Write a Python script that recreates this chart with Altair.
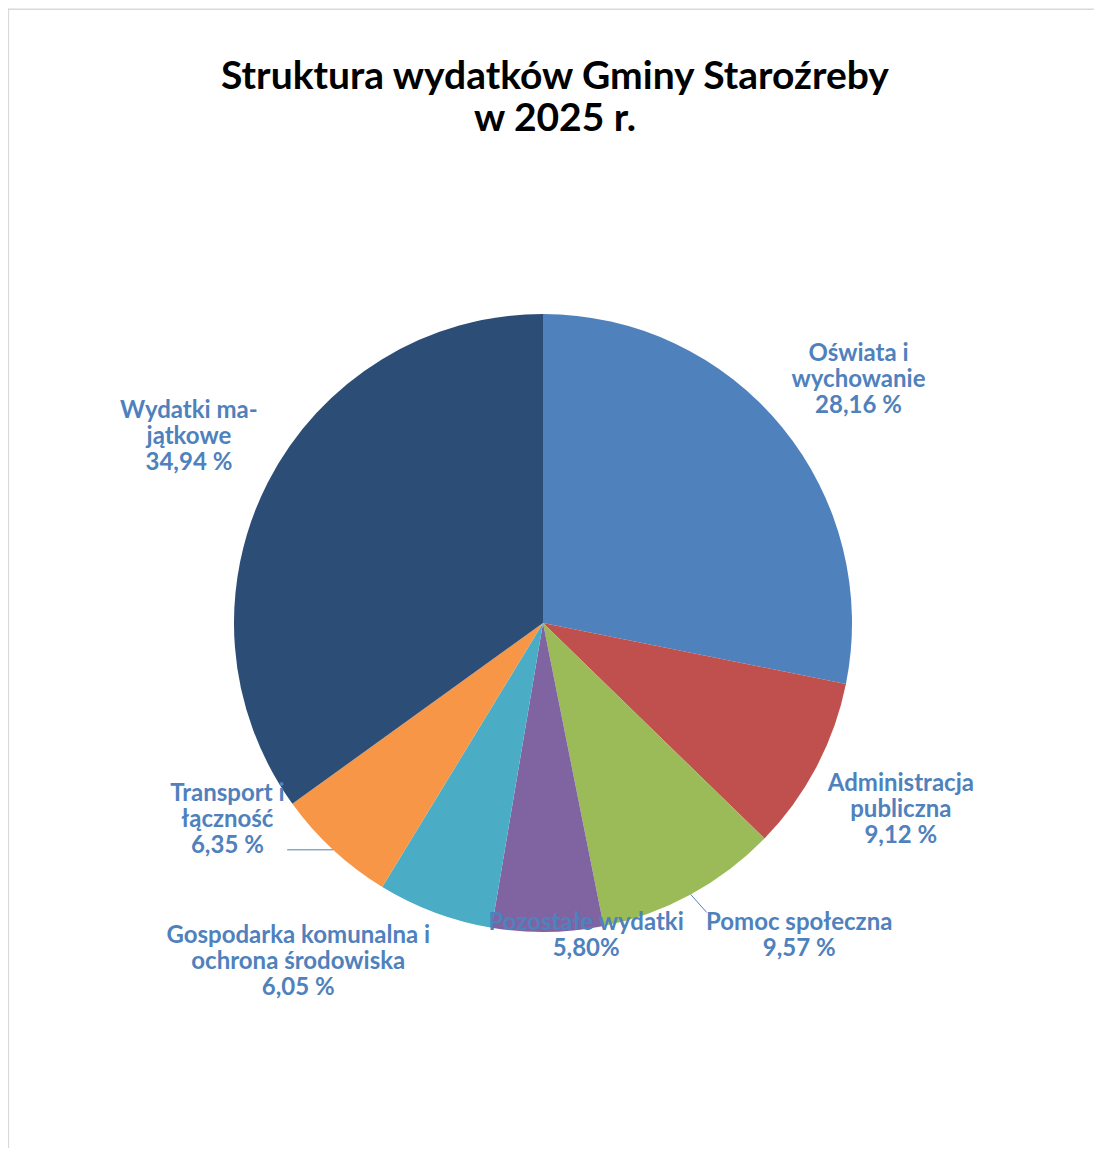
import altair as alt
import pandas as pd

categories = [
    "Oświata i wychowanie",
    "Administracja publiczna",
    "Pomoc społeczna",
    "Pozostałe wydatki",
    "Gospodarka komunalna i ochrona środowiska",
    "Transport i łączność",
    "Wydatki majątkowe",
]
values = [28.16, 9.12, 9.57, 5.80, 6.05, 6.35, 34.94]
label_names = [
    "Oświata i\nwychowanie",
    "Administracja\npubliczna",
    "Pomoc społeczna",
    "Pozostałe wydatki",
    "Gospodarka komunalna i\nochrona środowiska",
    "Transport i\nłączność",
    "Wydatki ma-\njątkowe",
]
value_labels = ["28,16 %", "9,12 %", "9,57 %", "5,80%", "6,05 %", "6,35 %", "34,94 %"]
colors = ["#4F81BD", "#C0504D", "#9BBB59", "#8064A2", "#4BACC6", "#F79646", "#2C4D75"]
title_lines = ["Struktura wydatków Gminy Staroźreby", "w 2025 r."]

df = pd.DataFrame({
    "idx": list(range(len(categories))),
    "category": categories,
    "value": values,
    "label": [n + "\n" + p for n, p in zip(label_names, value_labels)],
})

W, H = 1086, 1140
CX, CY, R = 535, 615, 309
LR = 400
BLUE = "#4F81BD"
FONT = "Lato"
LFS = 24
LH = 26

base = alt.Chart(df)

pie = base.mark_arc(radius=R).encode(
    theta=alt.Theta("value:Q", stack=True),
    color=alt.Color("category:N", scale=alt.Scale(domain=categories, range=colors), legend=None),
    order=alt.Order("idx:Q"),
    x=alt.value(CX),
    y=alt.value(CY),
)

mid_base = base.transform_window(
    cum="sum(value)", sort=[alt.SortField("idx")], frame=[None, 0]
).transform_joinaggregate(
    total="sum(value)"
).transform_calculate(
    mid="2*PI*(datum.cum - datum.value/2)/datum.total"
)

label_offsets = {
    "Oświata i wychowanie": (6, 10),
    "Administracja publiczna": (4, 0),
    "Pomoc społeczna": (65, -38),
    "Pozostałe wydatki": (37, -87),
    "Gospodarka komunalna i ochrona środowiska": (-105, -36),
    "Transport i łączność": (-44, -97),
    "Wydatki majątkowe": (2, -4),
}

label_layers = []
for cat, lab in zip(categories, df["label"]):
    dx, dy = label_offsets[cat]
    nlines = lab.count("\n") + 1
    label_layers.append(
        mid_base.transform_filter(alt.datum.category == cat).mark_text(
            radius=LR, dx=dx, dy=dy - (nlines - 1) * LH / 2, font=FONT, fontWeight="bold",
            fontSize=LFS, color=BLUE, lineBreak="\n", lineHeight=LH,
            align="center", baseline="middle",
        ).encode(
            theta=alt.Theta("mid:Q", scale=None),
            text="label:N",
            x=alt.value(CX),
            y=alt.value(CY),
        )
    )

leader_offsets = {
    "Pomoc społeczna": (16, 18),
    "Transport i łączność": (-46, 0),
}
leader_layers = []
for cat, (ldx, ldy) in leader_offsets.items():
    leader_layers.append(
        mid_base.transform_filter(alt.datum.category == cat).transform_calculate(
            lx=f"{CX} + {R}*sin(datum.mid)",
            ly=f"{CY} - {R}*cos(datum.mid)",
        ).transform_calculate(
            lx2=f"datum.lx + {ldx}",
            ly2=f"datum.ly + {ldy}",
        ).mark_rule(color=BLUE, strokeWidth=1).encode(
            x=alt.X("lx:Q", scale=None),
            y=alt.Y("ly:Q", scale=None),
            x2="lx2:Q",
            y2="ly2:Q",
        )
    )

title_df = pd.DataFrame({"t": [0]})
title = alt.Chart(title_df).mark_text(
    text=title_lines, font=FONT, fontWeight="bold", fontSize=39, color="#000000",
    lineHeight=42, align="center", baseline="middle",
).encode(x=alt.value(547), y=alt.value(69))

frame_top = alt.Chart(title_df).mark_rule(color="#D9D9D9", strokeWidth=1.6).encode(
    x=alt.value(0), x2=alt.value(W), y=alt.value(1.2)
)
frame_left = alt.Chart(title_df).mark_rule(color="#D9D9D9", strokeWidth=1.6).encode(
    x=alt.value(0.3), y=alt.value(0.5), y2=alt.value(H)
)

chart = alt.layer(
    frame_top, frame_left, pie, *leader_layers, *label_layers, title
).properties(
    width=W, height=H, autosize=alt.AutoSizeParams(type="none"), padding=0,
    background="white",
).configure_view(stroke=None)

chart.save("out.html", embed_options={"renderer": "svg", "actions": False})
